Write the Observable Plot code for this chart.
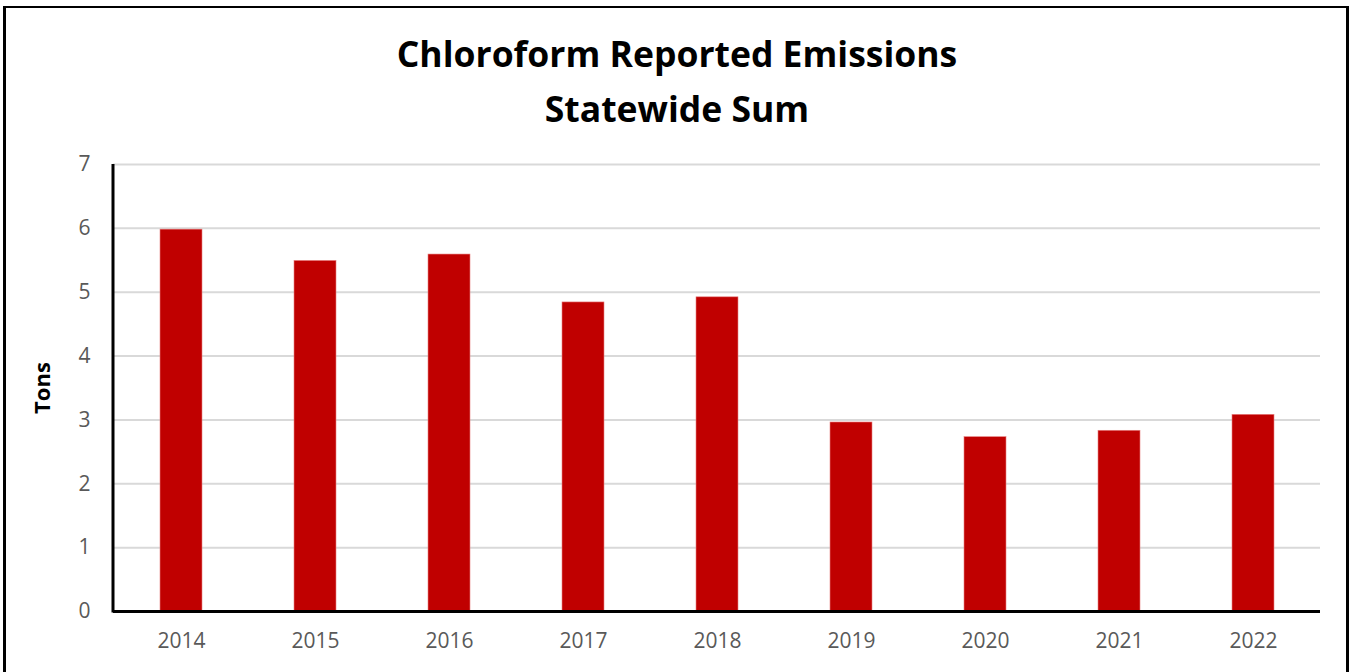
<!DOCTYPE html>
<html>
<head>
<meta charset="utf-8">
<script src="https://cdn.jsdelivr.net/npm/d3@7"></script>
<script src="https://cdn.jsdelivr.net/npm/@observablehq/plot@0.6"></script>
<style>
  html, body { margin: 0; padding: 0; background: #fff; overflow: hidden; }
  #wrap { position: relative; width: 1354px; height: 672px; overflow: hidden; font-family: "Open Sans", sans-serif; }
  #frame { position: absolute; left: 3px; top: 6px; width: 1346px; height: 720px; box-sizing: border-box; border-style: solid; border-color: #000; border-width: 2px 3px 3px 3px; pointer-events: none; }
  .title { position: absolute; left: 0; width: 1354px; text-align: center; font-weight: 700; color: #000; font-family: "Open Sans", sans-serif; white-space: nowrap; }
  #chart { position: absolute; left: 0; top: 0; }
</style>
</head>
<body>
<div id="wrap">
  <div id="chart"></div>
  <div class="title" id="t1" style="top:31px; font-size:35.5px; line-height:44px;">Chloroform Reported Emissions</div>
  <div class="title" id="t2" style="top:86px; font-size:35.5px; line-height:44px;">Statewide Sum</div>
  <div id="frame"></div>
</div>
<script>
const years = ["2014", "2015", "2016", "2017", "2018", "2019", "2020", "2021", "2022"];
const tons = [5.98, 5.49, 5.59, 4.84, 4.92, 2.96, 2.73, 2.83, 3.08];
const yTicks = [0, 1, 2, 3, 4, 5, 6, 7];
const yLabel = "Tons";

const data = years.map((y, i) => ({year: y, value: tons[i]}));

const chart = Plot.plot({
  width: 1354,
  height: 672,
  marginLeft: 113,
  marginRight: 34,
  marginTop: 164,
  marginBottom: 61,
  style: {fontFamily: "'Open Sans', sans-serif", fontSize: "21px", color: "#595959", background: "transparent"},
  x: {domain: years, paddingInner: 0.69, paddingOuter: 0.345, label: null},
  y: {domain: [0, 7], label: null},
  marks: [
    Plot.gridY(yTicks, {stroke: "#D9D9D9", strokeOpacity: 1, strokeWidth: 2}),
    Plot.barY(data, {x: "year", y: "value", fill: "#C00000", stroke: "#E88080", strokeWidth: 0.6}),
    Plot.ruleY([0], {stroke: "#000", strokeWidth: 3}),
    (index, scales, values, dimensions) => {
      const {marginLeft, marginTop, height, marginBottom} = dimensions;
      const line = d3.create("svg:line")
        .attr("x1", marginLeft).attr("x2", marginLeft)
        .attr("y1", marginTop).attr("y2", height - marginBottom + 1.5)
        .attr("stroke", "#000").attr("stroke-width", 3);
      return line.node();
    },
    Plot.axisY(yTicks, {tickSize: 0, tickPadding: 23, fill: "#595959", fontSize: 21, label: null, tickFormat: d3.format("d")}),
    Plot.axisX({tickSize: 0, tickPadding: 22, fill: "#595959", fontSize: 21, label: null}),
    Plot.text([yLabel], {frameAnchor: "left", dx: -71, rotate: -90, textAnchor: "middle", lineAnchor: "middle", fontWeight: "bold", fontSize: 22, fill: "#000", text: d => d})
  ]
});
document.getElementById("chart").appendChild(chart);
</script>
</body>
</html>
